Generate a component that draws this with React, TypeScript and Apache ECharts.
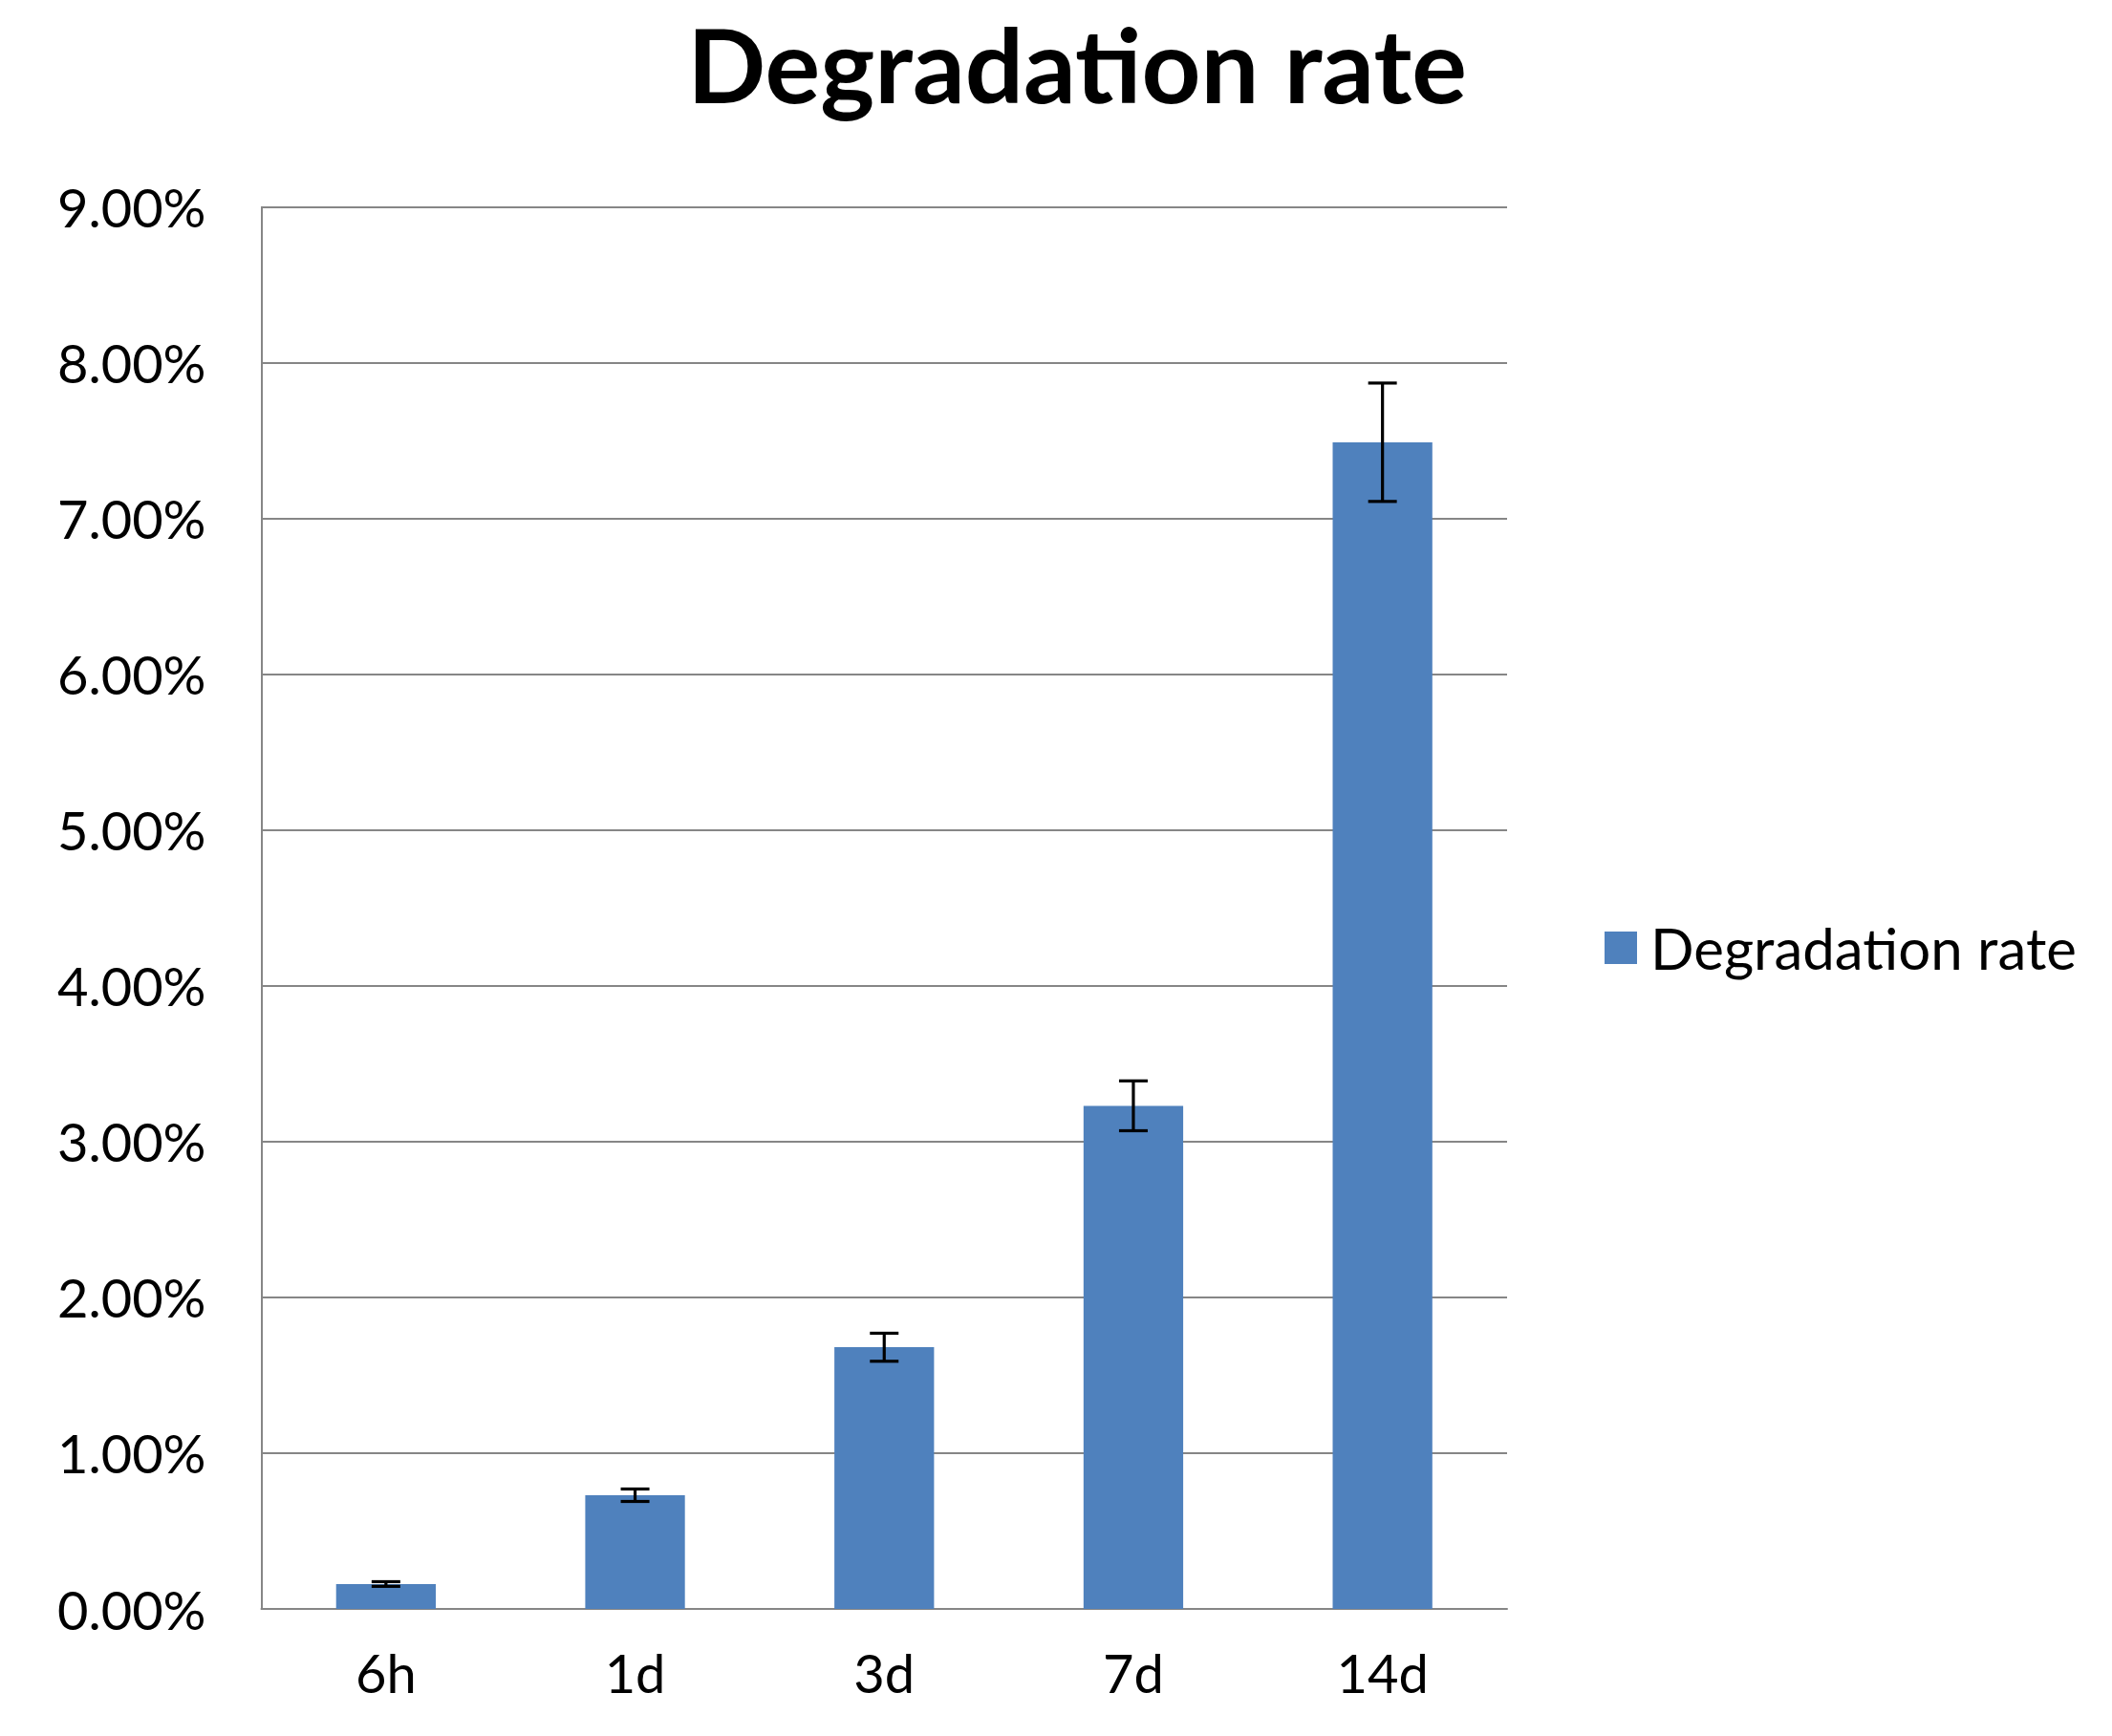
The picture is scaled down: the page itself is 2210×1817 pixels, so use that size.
import React, { useEffect, useRef } from "react";
import * as echarts from "echarts";

const categories = ["6h", "1d", "3d", "7d", "14d"];
const rates = [0.16, 0.73, 1.68, 3.23, 7.49];
const errors = [0.015, 0.04, 0.09, 0.16, 0.38];
const yTicks = { min: 0, max: 9, interval: 1 };
const titleText = "Degradation rate";
const seriesName = "Degradation rate";

export default function App() {
  const ref = useRef<HTMLDivElement>(null);
  useEffect(() => {
    document.body.style.margin = "0";
    const chart = echarts.init(ref.current!, null, { renderer: "svg" });
    const errData = rates.map((v, i) => [i, v - errors[i], v + errors[i]]);
    chart.setOption({
      animation: false,
      backgroundColor: "#fff",
      graphic: [
        {
          type: "text",
          x: 1127,
          y: 66,
          style: {
            text: titleText,
            font: "bold 108px Lato",
            fill: "#000",
            align: "center",
            verticalAlign: "middle",
          },
        },
      ],
      legend: {
        data: [seriesName],
        left: 1679,
        top: 962,
        padding: 0,
        itemWidth: 34,
        itemHeight: 34,
        icon: "rect",
        textStyle: {
          fontFamily: "Lato",
          fontSize: 60,
          lineHeight: 34,
          color: "#000",
          padding: [0, 0, 0, 9],
        },
      },
      grid: { left: 273.5, right: 633, top: 216.7, bottom: 133, containLabel: false },
      xAxis: {
        type: "category",
        data: categories,
        axisLine: { show: true, lineStyle: { color: "#868686", width: 2 } },
        axisTick: { show: false },
        axisLabel: { fontFamily: "Lato", fontSize: 56, color: "#000", margin: 38 },
      },
      yAxis: {
        type: "value",
        min: yTicks.min,
        max: yTicks.max,
        interval: yTicks.interval,
        axisLine: { show: true, lineStyle: { color: "#868686", width: 2 } },
        axisTick: { show: false },
        splitLine: { show: true, lineStyle: { color: "#868686", width: 2 } },
        axisLabel: {
          fontFamily: "Lato",
          fontSize: 56,
          color: "#000",
          margin: 58,
          formatter: (v: number) => v.toFixed(2) + "%",
        },
      },
      series: [
        {
          name: seriesName,
          type: "bar",
          data: rates,
          barCategoryGap: "60%",
          itemStyle: { color: "#4F81BD" },
        },
        {
          name: "error",
          type: "custom",
          data: errData,
          encode: { x: 0, y: [1, 2] },
          z: 10,
          renderItem: (params: any, api: any) => {
            const i = api.value(0);
            const lo = api.coord([i, api.value(1)]);
            const hi = api.coord([i, api.value(2)]);
            const half = 15;
            const st = { stroke: "#000", lineWidth: 3.2 };
            return {
              type: "group",
              children: [
                { type: "line", shape: { x1: hi[0], y1: hi[1], x2: lo[0], y2: lo[1] }, style: st },
                { type: "line", shape: { x1: hi[0] - half, y1: hi[1], x2: hi[0] + half, y2: hi[1] }, style: st },
                { type: "line", shape: { x1: lo[0] - half, y1: lo[1], x2: lo[0] + half, y2: lo[1] }, style: st },
              ],
            };
          },
        },
      ],
    });
    return () => chart.dispose();
  }, []);
  return <div ref={ref} style={{ width: 2210, height: 1817 }} />;
}
